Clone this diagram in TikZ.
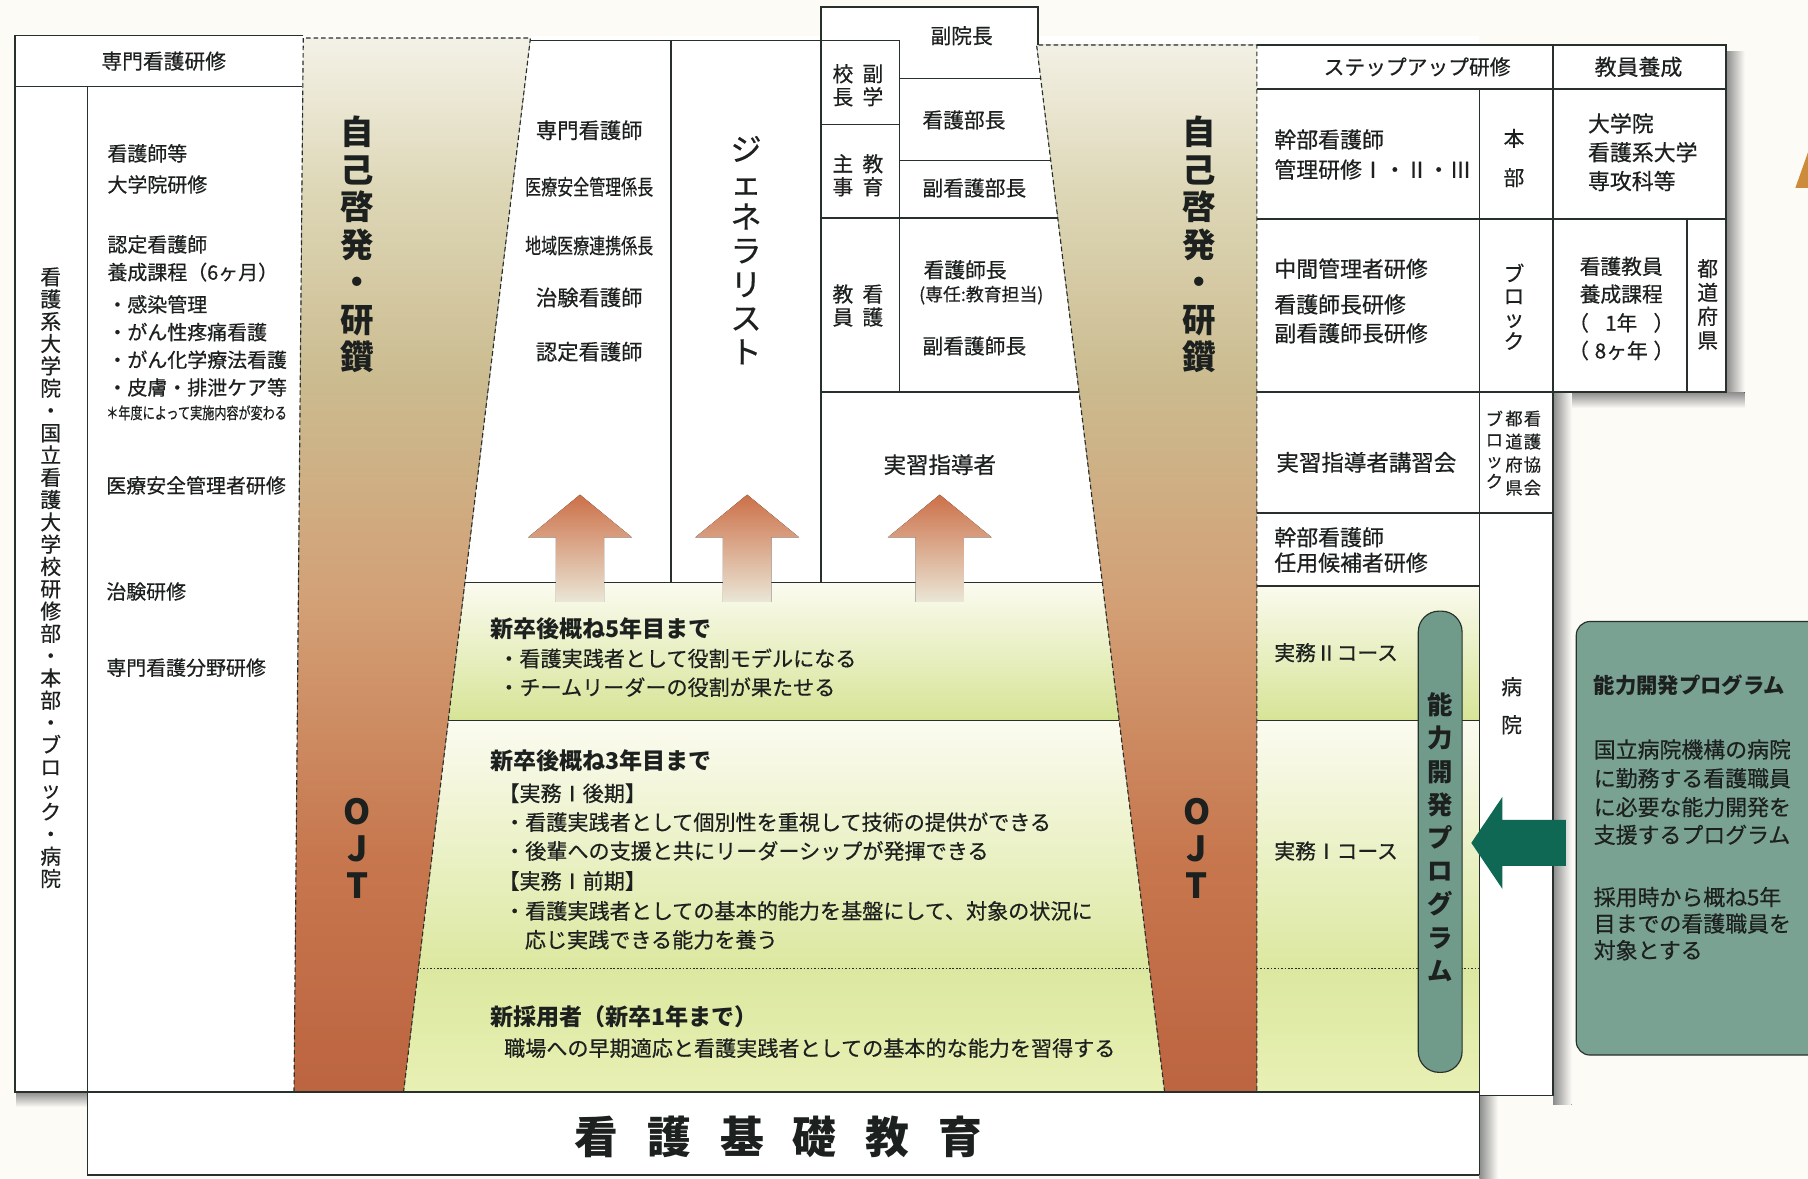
\documentclass[tikz,border=0pt]{standalone}
\usepackage{fontspec}
\setmainfont{Noto Sans CJK JP}[UprightFeatures={FakeBold=0.5}]
\usetikzlibrary{calc}
\definecolor{bg}{RGB}{252,251,246}
\definecolor{ln}{RGB}{40,48,44}
\definecolor{tx}{RGB}{28,32,30}
\definecolor{bA}{RGB}{244,242,232}
\definecolor{bB}{RGB}{222,216,184}
\definecolor{bC}{RGB}{203,187,143}
\definecolor{bD}{RGB}{211,160,118}
\definecolor{bE}{RGB}{199,119,78}
\definecolor{bF}{RGB}{188,100,64}
\definecolor{gW}{RGB}{251,251,240}
\definecolor{gG}{RGB}{214,228,150}
\definecolor{gG2}{RGB}{220,232,160}
\definecolor{gG3}{RGB}{232,240,180}
\definecolor{arT}{RGB}{204,112,72}
\definecolor{arB}{RGB}{234,230,214}
\definecolor{pill}{RGB}{112,154,138}
\definecolor{tbox}{RGB}{122,162,146}
\definecolor{darr}{RGB}{14,104,84}
\definecolor{shd}{RGB}{140,140,140}
\definecolor{orw}{RGB}{205,140,60}
\newcommand\bandfill[2]{%
  \fill[top color=bA,bottom color=bB] (#1,30) rectangle (#2,161);
  \fill[top color=bB,bottom color=bC] (#1,160) rectangle (#2,331);
  \fill[top color=bC,bottom color=bD] (#1,330) rectangle (#2,521);
  \fill[top color=bD,bottom color=bE] (#1,520) rectangle (#2,741);
  \fill[top color=bE,bottom color=bF] (#1,740) rectangle (#2,950);}
\begin{document}
\begin{tikzpicture}[x=1pt,y=-1pt,
  every node/.style={inner sep=0pt,text=tx},
  lnn/.style={draw=ln,line width=1.3pt},
  bd/.style={draw=ln,line width=1pt,dash pattern=on 4pt off 2.5pt},
  dt/.style={draw=ln,line width=1.4pt,dash pattern=on 1.4pt off 1.6pt},
  tl/.style={anchor=west,font=\fontsize{18}{20}\selectfont},
  tle/.style={anchor=west,font=\fontsize{17.3}{20}\selectfont},
  tc/.style={anchor=center,font=\fontsize{18}{20}\selectfont},
  tg/.style={anchor=west,font=\fontsize{18.3}{20}\selectfont},
  tb/.style={anchor=west,font=\bfseries\fontsize{20}{22}\selectfont},
  tr/.style={anchor=west,font=\fontsize{19}{21}\selectfont},
  vt/.style={align=center},
]
% background
\fill[bg] (0,0) rectangle (1568,1022);
\useasboundingbox (0,0) rectangle (1568,1022);
\fill[orw] (1557,163) -- (1568,132) -- (1568,163) -- cycle;

% shadows
\fill[left color=shd,right color=bg] (1497,45) rectangle (1513,350);
\fill[top color=shd,bottom color=bg] (1349,340) rectangle (1513,354);
\fill[left color=shd,right color=bg] (1347,340) rectangle (1363,958);
\fill[left color=shd,right color=bg] (1283,950) rectangle (1299,1022);
\fill[top color=shd,bottom color=bg] (14,947) rectangle (76,960);

% white areas
\fill[white] (13,31) rectangle (1283,947);
\fill[white] (76,947) rectangle (1283,1019);
\fill[white] (712,6) rectangle (900,40);
\fill[white] (1090,39) rectangle (1497,340);
\fill[white] (1283,340) rectangle (1347,950);

% green levels
\fill[top color=gW,bottom color=gG] (340,505) rectangle (1283,625);
\fill[top color=gW,bottom color=gG2] (340,625) rectangle (1283,840);
\fill[top color=gG2,bottom color=gG3] (340,840) rectangle (1283,947);
\fill[white] (1090,505) rectangle (1283,508);
\draw[dt] (340,840) -- (1283,840);

% bands
\begin{scope}
\clip (263,33) -- (460,33) -- (350,947) -- (255,947) -- cycle;
\bandfill{250}{465}
\end{scope}
\begin{scope}
\clip (899,39) -- (1090,39) -- (1090,947) -- (1010,947) -- cycle;
\bandfill{895}{1095}
\end{scope}

% lines left
\draw[lnn] (263,31) -- (13,31) -- (13,947) -- (76,947);
\draw[lnn] (13,75) -- (262,75);
\draw[lnn] (76,75) -- (76,1019) -- (1283,1019);
\draw[lnn] (76,947) -- (1283,947);
% lines middle
\draw[lnn] (460,35) -- (780,35);
\draw[lnn] (582,35) -- (582,505);
\draw[lnn] (712,505) -- (712,6) -- (900,6) -- (900,39);
\draw[lnn] (780,35) -- (780,340);
\draw[lnn] (780,68) -- (902.5,68);
\draw[lnn] (712,108) -- (780,108);
\draw[lnn] (780,139) -- (911.2,139);
\draw[lnn] (712,189) -- (917.3,189);
\draw[lnn] (712,340) -- (935.8,340);
\draw[lnn] (403.2,505) -- (956,505);
\draw[lnn] (388.8,625) -- (970.6,625);
% lines right
\draw[lnn] (1090,39) -- (1497,39) -- (1497,340) -- (1090,340);
\draw[lnn] (1090,77) -- (1497,77);
\draw[lnn] (1090,190) -- (1497,190);
\draw[lnn] (1463,190) -- (1463,340);
\draw[lnn] (1347,39) -- (1347,950) -- (1283,950);
\draw[lnn] (1283,77) -- (1283,1019);
\draw[lnn] (1090,445) -- (1347,445);
\draw[lnn] (1090,508) -- (1283,508);
\draw[lnn] (1090,625) -- (1283,625);
% band edges
\draw[bd] (255,947) -- (263,33) -- (460,33) -- (350,947);
\draw[bd] (1010,947) -- (899,39) -- (1090,39) -- (1090,947);

% up arrows
\foreach \cx in {503,648,815} {
  \fill[top color=arT,bottom color=arB] (\cx-21,522) -- (\cx-21,466) -- (\cx-45,466) -- (\cx,429) -- (\cx+45,466) -- (\cx+21,466) -- (\cx+21,522) -- cycle;
}

% pill, arrow, program box
\draw[draw=ln,line width=1pt,fill=pill,rounded corners=18pt] (1230,530) rectangle (1268,930);
\fill[darr] (1276,731) -- (1303,691) -- (1303,711) -- (1358,711) -- (1358,751) -- (1303,751) -- (1303,771) -- cycle;
\draw[draw=ln,line width=1pt,fill=tbox,rounded corners=12pt] (1367,539) rectangle (1585,915);

% ---- texts left
\node[tc] (h1) at (142,53) {専門看護研修};
\node[vt,font=\fontsize{18}{19.33}\selectfont] (lc) at (44,501) {看\\護\\系\\大\\学\\院\\・\\国\\立\\看\\護\\大\\学\\校\\研\\修\\部\\・\\本\\部\\・\\ブ\\ロ\\ッ\\ク\\・\\病\\院};
\node[tle] (l1) at (93,133) {看護師等};
\node[tle] (l2) at (93,160) {大学院研修};
\node[tle] (l3) at (93,212) {認定看護師};
\node[tle] (l4) at (93,236) {養成課程（6ヶ月）};
\node[tle] (l5) at (93,264) {・感染管理};
\node[tle] (l6) at (93,288) {・がん性疼痛看護};
\node[tle] (l7) at (93,312) {・がん化学療法看護};
\node[tle] (l8) at (93,336) {・皮膚・排泄ケア等};
\node[tl,font=\fontsize{14}{16}\selectfont] (l9) at (92,358) {\scalebox{0.75}[1]{＊年度によって実施内容が変わる}};
\node[tle] (l10) at (92,421) {医療安全管理者研修};
\node[tle] (l11) at (92,513) {治験研修};
\node[tle] (l12) at (92,579) {専門看護分野研修};

% bands text
\node[vt,font=\bfseries\fontsize{29}{32.5}\selectfont] (sk1) at (310,212) {自\\己\\啓\\発\\・\\研\\鑽};
\node[vt,font=\bfseries\fontsize{29}{32.5}\selectfont] (sk2) at (1040,212) {自\\己\\啓\\発\\・\\研\\鑽};
\node[vt,font=\bfseries\fontsize{30}{32}\selectfont] (oj1) at (310,736) {O\\J\\T};
\node[vt,font=\bfseries\fontsize{30}{32}\selectfont] (oj2) at (1038,736) {O\\J\\T};

% middle column
\node[tc,font=\fontsize{18.5}{20}\selectfont] (m1) at (511,113) {専門看護師};
\node[tc,font=\fontsize{18.5}{20}\selectfont] (m2) at (511,162) {\scalebox{0.75}[1]{医療安全管理係長}};
\node[tc,font=\fontsize{18.5}{20}\selectfont] (m3) at (511,213) {\scalebox{0.75}[1]{地域医療連携係長}};
\node[tc,font=\fontsize{18.5}{20}\selectfont] (m4) at (511,258) {治験看護師};
\node[tc,font=\fontsize{18.5}{20}\selectfont] (m5) at (511,305) {認定看護師};
\node[vt,font=\fontsize{27}{29.3}\selectfont] (gen) at (647,217) {ジ\\ェ\\ネ\\ラ\\リ\\ス\\ト};

% management grid
\node[tc] (g1) at (834,31) {副院長};
\node[tc] (g2) at (836,104) {看護部長};
\node[tc] (g3) at (845,163) {副看護部長};
\node[tc] (g4) at (837,234) {看護師長};
\node[tc,font=\fontsize{15.5}{18}\selectfont] (g5) at (851,256) {(専任:教育担当)};
\node[tc] (g6) at (845,300) {副看護師長};
\node[tc,font=\fontsize{19.5}{21}\selectfont] (g7) at (815,403) {実習指導者};
\node[vt,font=\fontsize{18}{20}\selectfont] (v1a) at (731,74) {校\\長};
\node[vt,font=\fontsize{18}{20}\selectfont] (v1b) at (757,74) {副\\学};
\node[vt,font=\fontsize{18}{20}\selectfont] (v2a) at (731,152) {主\\事};
\node[vt,font=\fontsize{18}{20}\selectfont] (v2b) at (757,152) {教\\育};
\node[vt,font=\fontsize{18}{20}\selectfont] (v3a) at (731,265) {教\\員};
\node[vt,font=\fontsize{18}{20}\selectfont] (v3b) at (757,265) {看\\護};

% green texts
\node[tb] (c1) at (425,545) {新卒後概ね5年目まで};
\node[tg] (c2) at (432,571) {・看護実践者として役割モデルになる};
\node[tg] (c3) at (432,596) {・チームリーダーの役割が果たせる};
\node[tb] (c4) at (425,660) {新卒後概ね3年目まで};
\node[tg] (c5) at (432,688) {【実務Ⅰ後期】};
\node[tg] (c6) at (437,713) {・看護実践者として個別性を重視して技術の提供ができる};
\node[tg] (c7) at (437,738) {・後輩への支援と共にリーダーシップが発揮できる};
\node[tg] (c8) at (432,764) {【実務Ⅰ前期】};
\node[tg] (c9) at (437,790) {・看護実践者としての基本的能力を基盤にして、対象の状況に};
\node[tg] (c10) at (455,815) {応じ実践できる能力を養う};
\node[tb] (c11) at (425,882) {新採用者（新卒1年まで）};
\node[tg] (c12) at (437,909) {職場への早期適応と看護実践者としての基本的な能力を習得する};

% right table
\node[tc,font=\fontsize{18}{20}\selectfont] (r0) at (1229,58) {ステップアップ研修};
\node[tc,font=\fontsize{19}{21}\selectfont] (r00) at (1421,58) {教員養成};
\node[tr] (r1) at (1105,121) {幹部看護師};
\node[tr] (r2) at (1105,147) {管理研修Ⅰ・Ⅱ・Ⅲ};
\node[vt,font=\fontsize{18}{34}\selectfont] (r3) at (1313,137) {本\\部};
\node[tr] (r4) at (1377,107) {大学院};
\node[tr] (r5) at (1377,132) {看護系大学};
\node[tr] (r6) at (1377,157) {専攻科等};
\node[tr] (r7) at (1105,233) {中間管理者研修};
\node[tr] (r8) at (1105,264) {看護師長研修};
\node[tr] (r9) at (1105,289) {副看護師長研修};
\node[vt,font=\fontsize{18}{19.5}\selectfont] (r10) at (1313,266) {ブ\\ロ\\ッ\\ク};
\node[tc] (r11) at (1406,231) {看護教員};
\node[tc] (r12) at (1406,255) {養成課程};
\node[tc] (r13) at (1406,280) {\makebox[92pt]{（\hfill 1年\hfill ）}};
\node[tc] (r14) at (1406,304) {\makebox[92pt]{（\hfill 8ヶ年\hfill ）}};
\node[vt,font=\fontsize{18}{20.7}\selectfont] (r15) at (1481,264) {都\\道\\府\\県};
\node[tc,font=\fontsize{19.5}{21}\selectfont] (r16) at (1185,401) {実習指導者講習会};
\node[vt,anchor=north,font=\fontsize{15}{20}\selectfont] (r17a) at (1329,356) {看\\護\\協\\会};
\node[vt,anchor=north,font=\fontsize{15}{20}\selectfont] (r17b) at (1313,356) {都\\道\\府\\県};
\node[vt,anchor=north,font=\fontsize{15}{18}\selectfont] (r17c) at (1296,356) {ブ\\ロ\\ッ\\ク};
\node[tr] (r18) at (1105,466) {幹部看護師};
\node[tr] (r19) at (1105,488) {任用候補者研修};
\node[tl] (r20) at (1105,566) {実務Ⅱコース};
\node[tl] (r21) at (1105,738) {実務Ⅰコース};
\node[vt,font=\fontsize{18}{33}\selectfont] (r22) at (1311,612) {病\\院};

% pill text
\node[vt,font=\bfseries\fontsize{22}{28.8}\selectfont] (pt) at (1249,726) {能\\力\\開\\発\\プ\\ロ\\グ\\ラ\\ム};

% program box texts
\node[anchor=west,font=\bfseries\fontsize{18.5}{20}\selectfont] (p0) at (1382,594) {能力開発プログラム};
\node[tr] (p1) at (1382,650) {国立病院機構の病院};
\node[tr] (p2) at (1382,675) {に勤務する看護職員};
\node[tr] (p3) at (1382,700) {に必要な能力開発を};
\node[tr] (p4) at (1382,724) {支援するプログラム};
\node[tr] (p5) at (1382,778) {採用時から概ね5年};
\node[tr] (p6) at (1382,801) {目までの看護職員を};
\node[tr] (p7) at (1382,824) {対象とする};

% bottom
\node[font=\bfseries\fontsize{38}{40}\selectfont] (kb) at (675,986) {看\hspace{25pt}護\hspace{25pt}基\hspace{25pt}礎\hspace{25pt}教\hspace{25pt}育};
\end{tikzpicture}
\end{document}
